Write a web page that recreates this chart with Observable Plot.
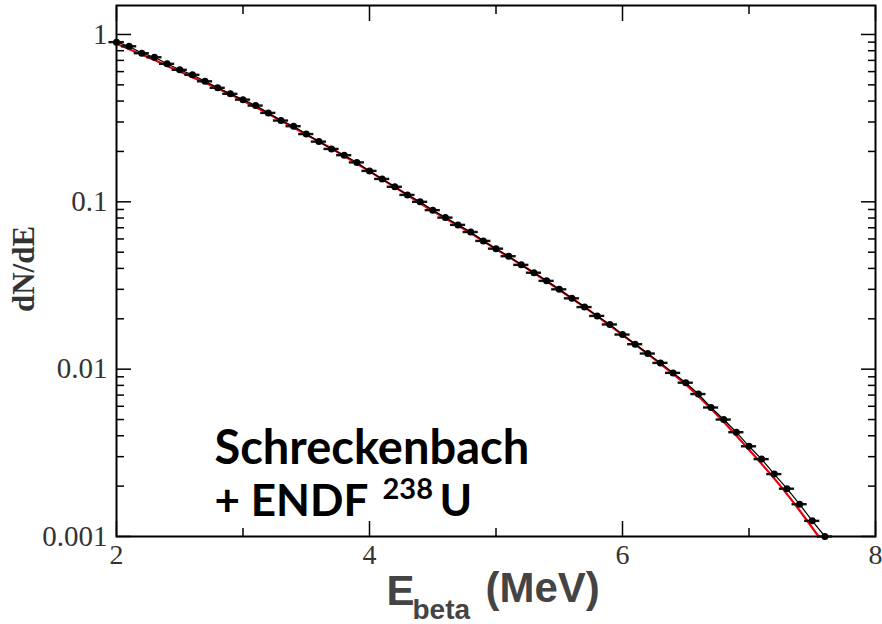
<!DOCTYPE html>
<html>
<head>
<meta charset="utf-8">
<script src="https://cdn.jsdelivr.net/npm/d3@7"></script>
<script src="https://cdn.jsdelivr.net/npm/@observablehq/plot@0.6"></script>
<style>
  html, body { margin: 0; padding: 0; background: #fff; }
</style>
</head>
<body>
<div id="chart"></div>
<script>
// Measured spectrum (points with horizontal bin bars)
const energy = [2.0, 2.1, 2.2, 2.3, 2.4, 2.5, 2.6, 2.7, 2.8, 2.9,
                3.0, 3.1, 3.2, 3.3, 3.4, 3.5, 3.6, 3.7, 3.8, 3.9,
                4.0, 4.1, 4.2, 4.3, 4.4, 4.5, 4.6, 4.7, 4.8, 4.9,
                5.0, 5.1, 5.2, 5.3, 5.4, 5.5, 5.6, 5.7, 5.8, 5.9,
                6.0, 6.1, 6.2, 6.3, 6.4, 6.5, 6.6, 6.7, 6.8, 6.9,
                7.0, 7.1, 7.2, 7.3, 7.4, 7.5, 7.6];
const dNdE = [0.90, 0.85, 0.773, 0.731, 0.668, 0.615, 0.574, 0.525, 0.480, 0.442,
              0.408, 0.376, 0.340, 0.306, 0.283, 0.254, 0.229, 0.207, 0.190, 0.172,
              0.153, 0.137, 0.123, 0.110, 0.100, 0.0892, 0.0805, 0.0728, 0.0660, 0.0584,
              0.0525, 0.0473, 0.0420, 0.0377, 0.0337, 0.0300, 0.0265, 0.0235, 0.0208, 0.0185,
              0.0161, 0.0141, 0.0124, 0.0109, 0.0095, 0.0083, 0.0071, 0.0059, 0.0050, 0.0042,
              0.00346, 0.0029, 0.00236, 0.00193, 0.00156, 0.00124, 0.001];

// Red curve (Schreckenbach + ENDF 238U)
const fitEnergy = [2.0, 2.25, 2.5, 2.75, 3.0, 3.25, 3.5, 3.75, 4.0, 4.25, 4.5, 4.75,
                   5.0, 5.25, 5.5, 5.75, 6.0, 6.25, 6.5, 6.75, 7.0, 7.25, 7.4, 7.55];
const fitValue = [0.88, 0.73, 0.60, 0.495, 0.402, 0.320, 0.252, 0.198, 0.152, 0.116, 0.088, 0.0685,
                  0.0522, 0.0398, 0.0298, 0.0221, 0.0160, 0.0115, 0.0081, 0.0053, 0.0033, 0.0020, 0.00143, 0.001];

// Ticks
const xMajor = [2, 4, 6, 8];
const xMinor = [3, 5, 7];
const yMajor = [0.001, 0.01, 0.1, 1];
const yMinor = [0.002, 0.003, 0.004, 0.005, 0.006, 0.007, 0.008, 0.009,
                0.02, 0.03, 0.04, 0.05, 0.06, 0.07, 0.08, 0.09,
                0.2, 0.3, 0.4, 0.5, 0.6, 0.7, 0.8, 0.9];

const barHalf = 0.06;

const points = energy.map((e, i) => ({x: e, y: dNdE[i]}));
const fit = fitEnergy.map((e, i) => ({x: e, y: fitValue[i]}));

const serif = "'Liberation Serif', 'Times New Roman', serif";
const sans = "'Liberation Sans', Arial, sans-serif";
const cal = "Lato, 'Open Sans', sans-serif";
const tickCol = "#333";

const chart = Plot.plot({
  width: 882,
  height: 624,
  marginLeft: 116,
  marginRight: 7,
  marginTop: 5,
  marginBottom: 88,
  style: {background: "white", overflow: "visible", fontFamily: serif},
  x: {domain: [2, 8]},
  y: {type: "log", domain: [0.001, 1.49]},
  marks: [
    // inward ticks
    Plot.axisX(xMajor, {anchor: "bottom", tickSize: -15, fill: "none", stroke: "black", strokeWidth: 1.5, label: null}),
    Plot.axisX(xMinor, {anchor: "bottom", tickSize: -8, fill: "none", stroke: "black", strokeWidth: 1.5, label: null}),
    Plot.axisX(xMajor, {anchor: "top", tickSize: -15, fill: "none", stroke: "black", strokeWidth: 1.5, label: null}),
    Plot.axisX(xMinor, {anchor: "top", tickSize: -8, fill: "none", stroke: "black", strokeWidth: 1.5, label: null}),
    Plot.axisY(yMajor, {anchor: "left", tickSize: -15, fill: "none", stroke: "black", strokeWidth: 1.5, label: null}),
    Plot.axisY(yMinor, {anchor: "left", tickSize: -8, fill: "none", stroke: "black", strokeWidth: 1.5, label: null}),
    Plot.axisY(yMajor, {anchor: "right", tickSize: -15, fill: "none", stroke: "black", strokeWidth: 1.5, label: null}),
    Plot.axisY(yMinor, {anchor: "right", tickSize: -8, fill: "none", stroke: "black", strokeWidth: 1.5, label: null}),
    // tick labels
    Plot.axisX(xMajor, {anchor: "bottom", tickSize: 0, tickPadding: 8, fontSize: 28, fill: tickCol, fontFamily: serif, label: null, tickFormat: d => String(d)}),
    Plot.axisY(yMajor, {anchor: "left", tickSize: 0, tickPadding: 9, fontSize: 29, fill: tickCol, fontFamily: serif, label: null, tickFormat: d => String(d)}),
    Plot.frame({stroke: "black", strokeWidth: 2}),
    // fit curve
    Plot.line(fit, {x: "x", y: "y", stroke: "#e8000b", strokeWidth: 2.2, curve: "monotone-x"}),
    // data
    Plot.line(points, {x: "x", y: "y", stroke: "black", strokeWidth: 1.2}),
    Plot.ruleY(points, {y: "y", x1: d => d.x - barHalf, x2: d => d.x + barHalf, stroke: "#111", strokeWidth: 2.4}),
    Plot.dot(points, {x: "x", y: "y", r: 3.5, fill: "black", stroke: "none"}),
    // annotation
    Plot.text(["Schreckenbach"], {text: d => d, frameAnchor: "bottom-left", dx: 98, dy: -73, textAnchor: "start", lineAnchor: "bottom", fontFamily: cal, fontWeight: "bold", fontSize: 47, fill: "black"}),
    Plot.text(["+ ENDF"], {text: d => d, frameAnchor: "bottom-left", dx: 98, dy: -21, textAnchor: "start", lineAnchor: "bottom", fontFamily: cal, fontWeight: "bold", fontSize: 44, fill: "black"}),
    Plot.text(["238"], {text: d => d, frameAnchor: "bottom-left", dx: 266, dy: -38, textAnchor: "start", lineAnchor: "bottom", fontFamily: cal, fontWeight: "bold", fontSize: 29, fill: "black"}),
    Plot.text(["U"], {text: d => d, frameAnchor: "bottom-left", dx: 323, dy: -21, textAnchor: "start", lineAnchor: "bottom", fontFamily: cal, fontWeight: "bold", fontSize: 44, fill: "black"}),
    // y label
    Plot.text(["dN/dE"], {text: d => d, frameAnchor: "left", dx: -83, dy: -2, rotate: -90, textAnchor: "middle", lineAnchor: "bottom", fontFamily: serif, fontWeight: "bold", fontSize: 31, fill: "#333"}),
    // x label
    Plot.text(["E"], {text: d => d, frameAnchor: "bottom-left", dx: 270, dy: 68, textAnchor: "start", lineAnchor: "bottom", fontFamily: sans, fontWeight: "bold", fontSize: 42, fill: "#444"}),
    Plot.text(["beta"], {text: d => d, frameAnchor: "bottom-left", dx: 296, dy: 82, textAnchor: "start", lineAnchor: "bottom", fontFamily: sans, fontWeight: "bold", fontSize: 28, fill: "#444"}),
    Plot.text(["(MeV)"], {text: d => d, frameAnchor: "bottom-left", dx: 369, dy: 65, textAnchor: "start", lineAnchor: "bottom", fontFamily: sans, fontWeight: "bold", fontSize: 42, fill: "#444"})
  ]
});
document.getElementById("chart").appendChild(chart);
</script>
</body>
</html>
